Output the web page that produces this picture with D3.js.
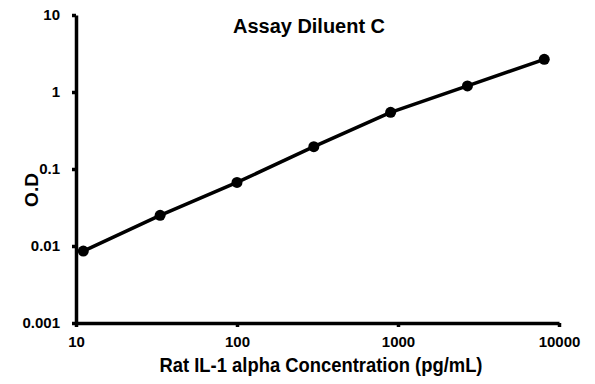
<!DOCTYPE html>
<html>
<head>
<meta charset="utf-8">
<script src="https://cdn.jsdelivr.net/npm/d3@7"></script>
<style>
  body { margin: 0; background: #fff; }
  svg { display: block; }
  text { font-family: "Liberation Sans", Arial, sans-serif; font-weight: bold; fill: #000; }
</style>
</head>
<body>
<svg id="chart" width="595" height="384"></svg>
<script>
// standard curve points
const concentration = [11.1, 33.3, 100, 300, 900, 2700, 8100];
const od = [0.0086, 0.025, 0.067, 0.195, 0.545, 1.2, 2.66];
const xTicks = [10, 100, 1000, 10000];
const yTicks = [0.001, 0.01, 0.1, 1, 10];
const yTickLabels = ["0.001", "0.01", "0.1", "1", "10"];

const svg = d3.select("#chart");

const x = d3.scaleLog().domain([10, 10000]).range([76, 559]);
const y = d3.scaleLog().domain([0.001, 10]).range([323, 15]);

const data = concentration.map((c, i) => [c, od[i]]);

// x axis
const xAxis = svg.append("g")
  .attr("transform", "translate(0,323)")
  .call(d3.axisBottom(x).tickValues(xTicks).tickFormat(d3.format("d")).tickSizeInner(4).tickSizeOuter(0).tickPadding(9));

// y axis
const yAxis = svg.append("g")
  .attr("transform", "translate(76,0)")
  .call(d3.axisLeft(y).tickValues(yTicks).tickFormat((d, i) => yTickLabels[i]).tickSizeInner(4).tickSizeOuter(0).tickPadding(12));

[xAxis, yAxis].forEach(g => {
  g.select(".domain").attr("stroke", "#000").attr("stroke-width", 3.5);
  g.selectAll(".tick line").attr("stroke", "#000").attr("stroke-width", 3.5);
  g.selectAll(".tick text").attr("font-size", 15).attr("font-family", "Liberation Sans, Arial, sans-serif").attr("font-weight", "bold");
});

// curve
const line = d3.line().x(d => x(d[0])).y(d => y(d[1]));
svg.append("path")
  .datum(data)
  .attr("fill", "none")
  .attr("stroke", "#000")
  .attr("stroke-width", 3.5)
  .attr("stroke-linejoin", "round")
  .attr("d", line);

svg.selectAll("circle.pt")
  .data(data)
  .join("circle")
  .attr("class", "pt")
  .attr("cx", d => x(d[0]))
  .attr("cy", d => y(d[1]))
  .attr("r", 5.5)
  .attr("fill", "#000");

// titles
svg.append("text")
  .attr("x", 309).attr("y", 33)
  .attr("text-anchor", "middle")
  .attr("font-size", 20)
  .attr("textLength", 152).attr("lengthAdjust", "spacingAndGlyphs")
  .text("Assay Diluent C");

svg.append("text")
  .attr("x", 321).attr("y", 372)
  .attr("text-anchor", "middle")
  .attr("font-size", 21)
  .attr("textLength", 323).attr("lengthAdjust", "spacingAndGlyphs")
  .text("Rat IL-1 alpha Concentration (pg/mL)");

svg.append("text")
  .attr("transform", "translate(38,190) rotate(-90)")
  .attr("text-anchor", "middle")
  .attr("font-size", 19)
  .text("O.D");
</script>
</body>
</html>
